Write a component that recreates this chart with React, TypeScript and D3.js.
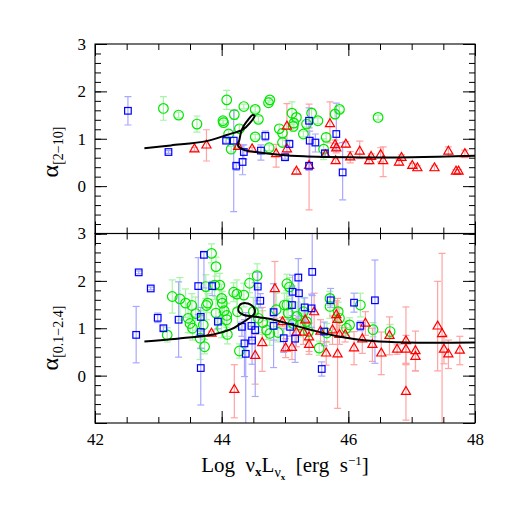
import React, { useRef, useEffect } from 'react'
import * as d3 from 'd3'

// ---- top panel: alpha[2-10] ----
const topBlueX = [42.52, 43.16, 44.07, 44.19, 44.23, 44.33, 44.35, 44.62, 44.69, 45.0, 45.07, 45.38, 45.39, 45.48, 45.38, 45.63, 45.81, 45.91]
const topBlueY = [1.59, 0.72, 0.96, 0.96, 0.43, 0.51, 0.72, 0.75, 1.06, 0.61, 0.89, 1.38, 0.96, 0.92, 0.43, 0.69, 1.1, 0.29]
const topBlueHi = [0.3, 0.03, 0.05, 0.64, 0.05, 0.36, 0.15, 0.12, 0.1, 0.04, 0.08, 0.27, 0.2, 0.18, 0.05, 0.08, 0.65, 0.63]
const topBlueLo = [0.3, 0.03, 0.05, 1.5, 0.1, 0.27, 0.15, 0.2, 0.1, 0.04, 0.08, 0.15, 0.6, 0.2, 0.1, 0.08, 0.35, 0.58]

const topGreenX = [43.08, 43.32, 43.61, 44.02, 44.03, 44.08, 44.11, 44.15, 44.2, 44.28, 44.35, 44.53, 44.58, 44.53, 44.74, 44.76, 44.75, 44.91, 44.96, 44.96, 45.11, 45.14, 45.18, 45.13, 45.29, 45.34, 45.42, 45.52, 45.65, 45.61, 45.79, 45.86, 46.47]
const topGreenY = [1.64, 1.5, 1.31, 1.38, 1.34, 1.82, 1.1, 0.78, 1.51, 1.21, 1.68, 1.62, 1.41, 1.04, 1.76, 1.82, 0.81, 1.21, 1.12, 0.92, 1.54, 1.33, 1.45, 1.26, 1.1, 1.31, 1.54, 1.38, 1.03, 0.78, 1.52, 1.62, 1.45]
const topGreenErr = [0.25, 0.06, 0.17, 0.06, 0.05, 0.2, 0.08, 0.06, 0.1, 0.08, 0.05, 0.06, 0.06, 0.05, 0.05, 0.05, 0.06, 0.08, 0.08, 0.08, 0.24, 0.1, 0.08, 0.1, 0.06, 0.06, 0.1, 0.06, 0.08, 0.22, 0.1, 0.06, 0.05]

const topRedX = [43.57, 43.76, 44.26, 44.48, 44.86, 45.03, 45.03, 45.18, 45.38, 45.71, 45.64, 45.79, 45.8, 45.81, 45.96, 46.03, 46.18, 46.33, 46.36, 46.51, 46.55, 46.8, 46.84, 47.01, 47.09, 47.36, 47.58, 47.7, 47.74, 47.84]
const topRedY = [0.78, 0.86, 0.83, 0.78, 0.68, 1.26, 0.78, 0.31, 0.43, 1.31, 0.66, 0.87, 0.53, 0.8, 0.88, 0.61, 0.73, 0.53, 0.62, 0.66, 0.53, 0.5, 0.6, 0.43, 0.38, 0.38, 0.73, 0.31, 0.31, 0.68]
const topRedHi = [0.04, 0.33, 0.05, 0.04, 0.2, 0.48, 0.08, 0.05, 1.3, 0.47, 0.05, 0.1, 0.05, 0.1, 0.06, 0.12, 0.22, 0.06, 0.06, 0.15, 0.3, 0.06, 0.06, 0.05, 0.05, 0.05, 0.1, 0.04, 0.04, 0.08]
const topRedLo = [0.04, 0.33, 0.05, 0.04, 0.28, 0.3, 0.08, 0.05, 0.93, 0.4, 0.05, 0.1, 0.05, 0.1, 0.06, 0.12, 0.15, 0.06, 0.06, 0.15, 0.33, 0.06, 0.06, 0.05, 0.05, 0.05, 0.1, 0.04, 0.04, 0.08]

const curveTopX = [42.78, 43.2, 43.76, 44.08, 44.34, 44.45, 44.52, 44.49, 44.4, 44.32, 44.28, 44.26, 44.34, 44.6, 44.87, 45.3, 46.0, 47.0, 48.0]
const curveTopY = [0.8, 0.86, 0.95, 1.08, 1.2, 1.34, 1.48, 1.5, 1.37, 1.2, 0.98, 0.85, 0.77, 0.71, 0.67, 0.63, 0.61, 0.61, 0.64]

// ---- bottom panel: alpha[0.1-2.4] ----
const botBlueX = [42.65, 42.69, 42.88, 42.99, 43.08, 43.32, 43.63, 43.67, 43.67, 43.67, 43.72, 43.85, 43.94, 44.32, 44.36, 44.38, 44.47, 44.48, 44.53, 44.57, 44.61, 44.82, 44.82, 44.98, 45.08, 45.11, 45.12, 45.16, 45.22, 45.21, 45.31, 45.43, 45.42, 45.58, 45.62, 45.72, 46.09, 46.19, 46.42]
const botBlueY = [0.86, 2.18, 1.84, 1.22, 1.0, 1.18, 1.89, 1.24, 0.92, 0.16, 2.55, 1.89, 1.14, 1.03, 0.68, 0.46, 1.05, 0.74, 0.96, 1.88, 1.58, 1.34, 1.05, 0.79, 1.03, 1.49, 1.77, 0.78, 1.74, 2.07, 1.44, 2.19, 1.42, 0.14, 0.93, 1.59, 1.54, 1.05, 1.59]
const botBlueHi = [0.6, 0.03, 0.03, 0.1, 0.05, 0.8, 0.6, 0.2, 0.35, 0.42, 0.05, 0.1, 0.1, 0.1, 0.5, 0.87, 0.2, 0.3, 1.0, 0.3, 0.15, 0.6, 0.2, 0.2, 0.15, 0.4, 0.35, 0.3, 0.4, 0.4, 0.2, 1.0, 0.3, 0.15, 0.2, 0.25, 0.2, 0.1, 0.85]
const botBlueLo = [0.59, 0.03, 0.03, 0.1, 0.05, 0.79, 0.6, 0.3, 0.35, 0.78, 0.7, 0.2, 0.15, 0.2, 0.7, 1.5, 0.3, 0.5, 1.4, 0.3, 0.15, 1.17, 0.3, 0.3, 0.2, 0.4, 0.5, 0.5, 0.5, 0.9, 0.3, 0.5, 0.4, 0.15, 0.3, 0.15, 0.2, 0.1, 1.33]

const botGreenX = [43.14, 43.22, 43.34, 43.43, 43.53, 43.47, 43.5, 43.54, 43.59, 43.66, 43.71, 43.73, 43.75, 43.76, 43.78, 43.84, 43.91, 43.89, 43.97, 43.91, 44.0, 44.01, 44.04, 44.08, 44.08, 44.09, 44.0, 44.19, 44.24, 44.25, 44.28, 44.35, 44.44, 44.56, 44.5, 44.58, 44.65, 44.71, 44.76, 44.86, 44.89, 44.99, 45.03, 45.07, 45.03, 45.05, 45.19, 45.24, 45.13, 45.29, 45.34, 45.37, 45.54, 45.66, 45.71, 45.71, 45.84, 45.86, 45.97, 46.02, 46.19, 46.39, 46.66]
const botGreenY = [0.86, 1.67, 1.62, 1.53, 1.48, 1.21, 1.1, 1.0, 1.31, 0.79, 1.07, 0.61, 1.88, 1.48, 1.53, 2.58, 2.3, 1.91, 1.91, 1.32, 1.63, 1.53, 1.37, 1.27, 1.18, 0.87, 1.0, 1.76, 1.72, 1.35, 0.52, 1.7, 1.95, 2.11, 1.35, 1.21, 1.12, 0.96, 0.89, 1.39, 0.91, 1.49, 1.94, 1.87, 1.49, 1.32, 1.25, 1.07, 1.1, 1.35, 1.14, 0.93, 0.58, 0.9, 1.63, 1.46, 1.35, 1.21, 1.0, 1.07, 1.49, 0.97, 0.93]
const botGreenErr = [0.15, 0.35, 0.45, 0.3, 0.25, 0.3, 0.2, 0.25, 0.35, 0.45, 0.3, 0.15, 0.25, 0.3, 0.2, 0.2, 0.2, 0.3, 0.25, 0.35, 0.3, 0.25, 0.3, 0.25, 0.35, 0.2, 0.2, 0.2, 0.3, 0.35, 0.15, 0.25, 0.2, 0.25, 0.3, 0.3, 0.25, 0.2, 0.25, 0.35, 0.2, 0.25, 0.2, 0.2, 0.3, 0.3, 0.3, 0.25, 0.25, 0.3, 0.25, 0.2, 0.15, 0.2, 0.15, 0.25, 0.2, 0.2, 0.15, 0.15, 0.25, 0.15, 0.15]

const botRedX = [43.84, 44.2, 44.53, 44.64, 44.84, 44.96, 45.01, 45.11, 45.18, 45.29, 45.32, 45.38, 45.38, 45.46, 45.56, 45.65, 45.75, 45.81, 45.83, 45.83, 45.86, 45.95, 46.09, 46.22, 46.27, 46.38, 46.52, 46.65, 46.77, 46.91, 46.91, 46.91, 47.06, 47.06, 47.41, 47.48, 47.51, 47.58, 47.76]
const botRedY = [0.89, -0.3, 0.42, 0.69, 1.83, 1.13, 0.58, 0.59, 0.91, 0.91, 1.17, 0.65, 0.81, 1.34, 0.93, 0.47, 0.96, 1.28, 1.18, 0.45, 0.86, 0.86, 0.58, 0.77, 1.1, 0.65, 0.47, 0.84, 0.55, 0.73, 0.55, -0.34, 0.52, 0.4, 1.04, 0.88, 0.55, 0.45, 0.53]
const botRedHi = [0.05, 0.53, 0.45, 0.75, 0.58, 0.1, 0.2, 0.25, 0.3, 0.25, 0.2, 0.2, 0.3, 0.4, 0.25, 0.25, 0.3, 0.3, 0.25, 1.18, 0.2, 0.15, 0.35, 0.3, 0.25, 0.35, 0.45, 0.4, 0.1, 0.72, 0.3, 0.6, 0.42, 0.3, 0.95, 1.7, 0.3, 0.3, 0.3]
const botRedLo = [0.05, 0.59, 0.6, 0.6, 0.62, 0.1, 0.2, 0.25, 0.3, 0.25, 0.2, 0.2, 0.3, 0.4, 0.25, 0.25, 0.3, 0.3, 0.25, 1.14, 0.2, 0.15, 0.35, 0.3, 0.25, 0.35, 0.45, 0.4, 0.1, 0.5, 0.3, 0.6, 0.42, 0.3, 0.94, 1.9, 0.3, 0.3, 0.3]

const curveBotX = [42.78, 43.3, 43.87, 44.15, 44.28, 44.42, 44.52, 44.5, 44.38, 44.28, 44.27, 44.35, 44.5, 44.7, 44.82, 45.34, 45.87, 46.39, 46.92, 48.0]
const curveBotY = [0.72, 0.78, 0.87, 0.98, 1.08, 1.2, 1.32, 1.45, 1.53, 1.48, 1.35, 1.28, 1.25, 1.21, 1.18, 0.99, 0.82, 0.73, 0.7, 0.7]

const xTickLabels = [42, 44, 46, 48]
const yTickLabels = [0, 1, 2, 3]

const FONT = 'Liberation Serif, DejaVu Serif, serif'

function App() {
    const svgRef = useRef<SVGSVGElement>(null)

    useEffect(() => {
        drawChart()
    }, [])

    const drawChart = () => {
        const svg = d3.select(svgRef.current)
        svg.selectAll('*').remove()

        const left = 95
        const right = 475
        const x = d3.scaleLinear().domain([42, 48]).range([left, right])

        const zip = (xs: number[], ys: number[], hi: number[], lo: number[]) =>
            xs.map((v, i) => ({ x: v, y: ys[i], hi: hi[i], lo: lo[i] }))

        const panels = [
            {
                top: 44, bottom: 233.5, name: 'top', titleY: 152,
                label: '[2\u221210]',
                series: [
                    { pts: zip(topGreenX, topGreenY, topGreenErr, topGreenErr), shape: 'circle', color: '#00e600', light: '#a6f5a6' },
                    { pts: zip(topRedX, topRedY, topRedHi, topRedLo), shape: 'triangle', color: '#ff0000', light: '#ffa3a3' },
                    { pts: zip(topBlueX, topBlueY, topBlueHi, topBlueLo), shape: 'square', color: '#0000ff', light: '#a8a8ff' }
                ],
                curve: curveTopX.map((v, i) => [v, curveTopY[i]])
            },
            {
                top: 233.5, bottom: 423, name: 'bot', titleY: 338,
                label: '[0.1\u22122.4]',
                series: [
                    { pts: zip(botGreenX, botGreenY, botGreenErr, botGreenErr), shape: 'circle', color: '#00e600', light: '#a6f5a6' },
                    { pts: zip(botRedX, botRedY, botRedHi, botRedLo), shape: 'triangle', color: '#ff0000', light: '#ffa3a3' },
                    { pts: zip(botBlueX, botBlueY, botBlueHi, botBlueLo), shape: 'square', color: '#0000ff', light: '#a8a8ff' }
                ],
                curve: curveBotX.map((v, i) => [v, curveBotY[i]])
            }
        ]

        const tri = d3.symbol().type(d3.symbolTriangle).size(36)

        panels.forEach(p => {
            const y = d3.scaleLinear().domain([-1, 3]).range([p.bottom, p.top])
            const clipId = `clip-${p.name}`

            svg.append('clipPath').attr('id', clipId)
                .append('rect')
                .attr('x', left).attr('y', p.top)
                .attr('width', right - left).attr('height', p.bottom - p.top)

            const plot = svg.append('g').attr('clip-path', `url(#${clipId})`)

            // error bars first
            p.series.forEach(s => {
                const eb = plot.append('g')
                    .attr('stroke', s.light)
                    .attr('stroke-width', 1.2)
                eb.selectAll('line.v')
                    .data(s.pts)
                    .join('line')
                    .attr('class', 'v')
                    .attr('x1', d => x(d.x)).attr('x2', d => x(d.x))
                    .attr('y1', d => y(d.y + d.hi)).attr('y2', d => y(d.y - d.lo))
                eb.selectAll('line.ch')
                    .data(s.pts)
                    .join('line')
                    .attr('class', 'ch')
                    .attr('x1', d => x(d.x) - 3.5).attr('x2', d => x(d.x) + 3.5)
                    .attr('y1', d => y(d.y + d.hi)).attr('y2', d => y(d.y + d.hi))
                eb.selectAll('line.cl')
                    .data(s.pts)
                    .join('line')
                    .attr('class', 'cl')
                    .attr('x1', d => x(d.x) - 3.5).attr('x2', d => x(d.x) + 3.5)
                    .attr('y1', d => y(d.y - d.lo)).attr('y2', d => y(d.y - d.lo))
            })

            // markers
            p.series.forEach(s => {
                const mg = plot.append('g')
                    .attr('fill', 'none')
                    .attr('stroke', s.color)
                    .attr('stroke-width', 1.2)
                if (s.shape === 'circle') {
                    mg.selectAll('circle')
                        .data(s.pts)
                        .join('circle')
                        .attr('cx', d => x(d.x))
                        .attr('cy', d => y(d.y))
                        .attr('r', 4.8)
                } else if (s.shape === 'square') {
                    mg.selectAll('rect')
                        .data(s.pts)
                        .join('rect')
                        .attr('x', d => x(d.x) - 3.3)
                        .attr('y', d => y(d.y) - 3.3)
                        .attr('width', 6.6)
                        .attr('height', 6.6)
                } else {
                    mg.selectAll('path')
                        .data(s.pts)
                        .join('path')
                        .attr('transform', d => `translate(${x(d.x)},${y(d.y)})`)
                        .attr('d', tri())
                }
            })

            // model track
            const line = d3.line<number[]>()
                .x(d => x(d[0]))
                .y(d => y(d[1]))
                .curve(d3.curveCatmullRom.alpha(0.5))
            plot.append('path')
                .datum(p.curve)
                .attr('fill', 'none')
                .attr('stroke', '#000')
                .attr('stroke-width', 2)
                .attr('d', line)

            // ticks, inward on all four sides
            const yMinor = d3.range(-1, 3.001, 0.2)
            const xMinor = d3.range(42, 48.001, 0.5)
            const yMajor = [-1, 0, 1, 2, 3]
            const xMajor = xTickLabels
            const tickG = svg.append('g').attr('stroke-width', 1)
            const strip = (g: any) => g.call((gg: any) => gg.select('.domain').remove())

            tickG.append('g').attr('transform', `translate(${left},0)`)
                .call(d3.axisLeft(y).tickValues(yMinor).tickSize(-6).tickFormat(() => '')).call(strip)
            tickG.append('g').attr('transform', `translate(${left},0)`)
                .call(d3.axisLeft(y).tickValues(yMajor).tickSize(-12).tickFormat(() => '')).call(strip)
            tickG.append('g').attr('transform', `translate(${right},0)`)
                .call(d3.axisRight(y).tickValues(yMinor).tickSize(-6).tickFormat(() => '')).call(strip)
            tickG.append('g').attr('transform', `translate(${right},0)`)
                .call(d3.axisRight(y).tickValues(yMajor).tickSize(-12).tickFormat(() => '')).call(strip)
            tickG.append('g').attr('transform', `translate(0,${p.bottom})`)
                .call(d3.axisBottom(x).tickValues(xMinor).tickSize(-6).tickFormat(() => '')).call(strip)
            tickG.append('g').attr('transform', `translate(0,${p.bottom})`)
                .call(d3.axisBottom(x).tickValues(xMajor).tickSize(-12).tickFormat(() => '')).call(strip)
            tickG.append('g').attr('transform', `translate(0,${p.top})`)
                .call(d3.axisTop(x).tickValues(xMinor).tickSize(-6).tickFormat(() => '')).call(strip)
            tickG.append('g').attr('transform', `translate(0,${p.top})`)
                .call(d3.axisTop(x).tickValues(xMajor).tickSize(-12).tickFormat(() => '')).call(strip)

            // frame
            svg.append('rect')
                .attr('x', left).attr('y', p.top)
                .attr('width', right - left).attr('height', p.bottom - p.top)
                .attr('fill', 'none')
                .attr('stroke', '#000')
                .attr('stroke-width', 1.1)

            // y tick labels
            const yl = svg.append('g').attr('transform', `translate(${left},0)`)
                .call(d3.axisLeft(y).tickValues(yTickLabels).tickSize(0).tickPadding(9).tickFormat(d3.format('d')))
                .call(strip)
            yl.attr('font-family', FONT).attr('font-size', 17)

            // y title
            const yt = svg.append('text')
                .attr('transform', `translate(58,${p.titleY}) rotate(-90)`)
                .attr('text-anchor', 'middle')
                .attr('font-family', FONT)
                .attr('font-size', 24)
            yt.append('tspan').text('\u03b1')
            yt.append('tspan').attr('dy', 5).attr('font-size', 14).text(p.label)
        })

        // x tick labels
        const xl = svg.append('g').attr('transform', 'translate(0,423)')
            .call(d3.axisBottom(x).tickValues(xTickLabels).tickSize(0).tickPadding(10).tickFormat(d3.format('d')))
            .call((g: any) => g.select('.domain').remove())
        xl.attr('font-family', FONT).attr('font-size', 17)

        // x title
        const xt = svg.append('text')
            .attr('x', 285)
            .attr('y', 472)
            .attr('text-anchor', 'middle')
            .attr('font-family', FONT)
            .attr('font-size', 21)
            .style('white-space', 'pre')
        xt.append('tspan').text('Log  \u03bd')
        xt.append('tspan').attr('dy', 4).attr('font-size', 13).attr('font-weight', 'bold').text('x')
        xt.append('tspan').attr('dy', -4).text('L')
        xt.append('tspan').attr('dy', 5).attr('font-size', 14).text('\u03bd')
        xt.append('tspan').attr('dy', 3).attr('font-size', 9).attr('font-weight', 'bold').text('x')
        xt.append('tspan').attr('dy', -8).text('  [erg  s')
        xt.append('tspan').attr('dy', -7).attr('font-size', 13).text('\u22121')
        xt.append('tspan').attr('dy', 7).text(']')
    }

    return (
        <div style={{ position: 'absolute', left: 0, top: 0 }}>
            <svg ref={svgRef} width={518} height={518} style={{ display: 'block', background: '#fff' }} />
        </div>
    )
}

export default App
